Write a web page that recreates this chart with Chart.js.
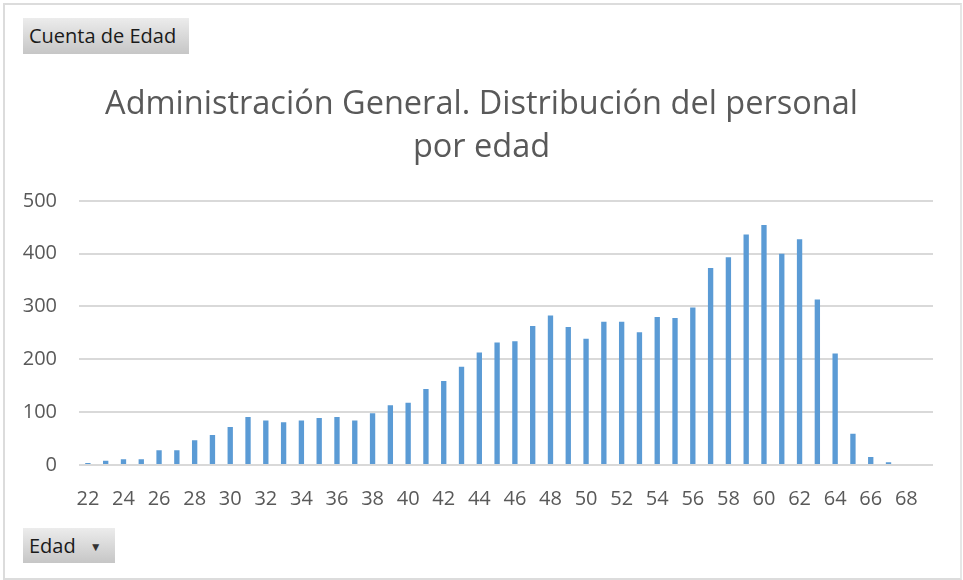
<!DOCTYPE html>
<html>
<head>
<meta charset="utf-8">
<script src="https://cdn.jsdelivr.net/npm/chart.js@4"></script>
<style>
	body { margin: 0; background: #fff; font-family: "Open Sans", sans-serif; }
	#wrap { position: relative; width: 963px; height: 580px; overflow: hidden; }
	#frame { position: absolute; left: 3px; top: 3px; width: 955px; height: 573px; border: 2px solid #dcdcdc; border-right-color: #e6e6e6; }
	canvas { position: absolute; left: 0; top: 0; }
	.btn { position: absolute; background: linear-gradient(#ececec, #c6c6c6); color: #1a1a1a; font-size: 20px; line-height: 36px; box-sizing: border-box; padding-left: 6px; }
	#btn-valor { left: 23px; top: 18px; width: 166px; height: 36px; }
	#btn-campo { left: 23px; top: 528px; width: 92px; height: 35px; line-height: 35px; }
	#btn-campo span { font-size: 12px; margin-left: 14px; vertical-align: 2px; color: #333; }
</style>
</head>
<body>
<div id="wrap">
	<div id="frame"></div>
	<canvas id="chart" width="963" height="580"></canvas>
	<div class="btn" id="btn-valor">Cuenta de Edad</div>
	<div class="btn" id="btn-campo">Edad<span>&#9660;</span></div>
</div>
<script>
const edades = [22, 23, 24, 25, 26, 27, 28, 29, 30, 31, 32, 33, 34, 35, 36, 37, 38, 39, 40, 41, 42, 43, 44, 45,
	46, 47, 48, 49, 50, 51, 52, 53, 54, 55, 56, 57, 58, 59, 60, 61, 62, 63, 64, 65, 66, 67, 68, 69];
const cuenta = [4, 8, 11, 11, 28, 28, 47, 57, 72, 91, 84, 81, 84, 89, 91, 84, 98, 113, 118, 144, 159, 186, 213, 232,
	234, 263, 283, 261, 239, 271, 271, 251, 280, 278, 298, 373, 393, 436, 454, 400, 427, 313, 211, 59, 15, 5, 0, 0];
const yTicks = [0, 100, 200, 300, 400, 500];
const titulo = ["Administración General. Distribución del personal", "por edad"];

const gris = "#595959";
const ctx = document.querySelector("#chart").getContext("2d");

new Chart(ctx, {
	type: "bar",
	data: {
		labels: edades,
		datasets: [
			{
				label: "Total",
				data: cuenta,
				backgroundColor: "#5b9bd5",
				borderWidth: 0,
				barPercentage: 0.3,
				categoryPercentage: 1
			}
		]
	},
	options: {
		responsive: false,
		animation: false,
		layout: {
			padding: 0
		},
		plugins: {
			legend: { display: false },
			tooltip: { enabled: false },
			title: {
				display: true,
				text: titulo,
				color: gris,
				font: { family: "Open Sans", size: 32.5, weight: "normal", lineHeight: 1.32 },
				padding: { top: 83, bottom: 32 }
			}
		},
		scales: {
			x: {
				grid: { display: false },
				border: { display: false },
				ticks: {
					color: gris,
					font: { family: "Open Sans", size: 20 },
					autoSkip: false,
					maxRotation: 0,
					padding: 14,
					callback: function (value, index) {
						return index % 2 === 0 ? this.getLabelForValue(value) : "";
					}
				},
				afterFit: function (scale) {
					scale.height = 115;
				}
			},
			y: {
				min: 0,
				max: 500,
				afterBuildTicks: function (scale) {
					scale.ticks = yTicks.map(v => ({ value: v }));
				},
				grid: { color: "#d9d9d9", lineWidth: 2, drawTicks: false },
				border: { display: false },
				ticks: {
					color: gris,
					font: { family: "Open Sans", size: 20 },
					padding: 22
				},
				afterFit: function (scale) {
					scale.width = 79;
				}
			},
			margen: {
				position: "right",
				min: 0,
				max: 500,
				grid: { display: false, drawTicks: false },
				border: { display: false },
				ticks: { display: false },
				afterFit: function (scale) {
					scale.width = 30;
				}
			}
		}
	}
});
</script>
</body>
</html>
